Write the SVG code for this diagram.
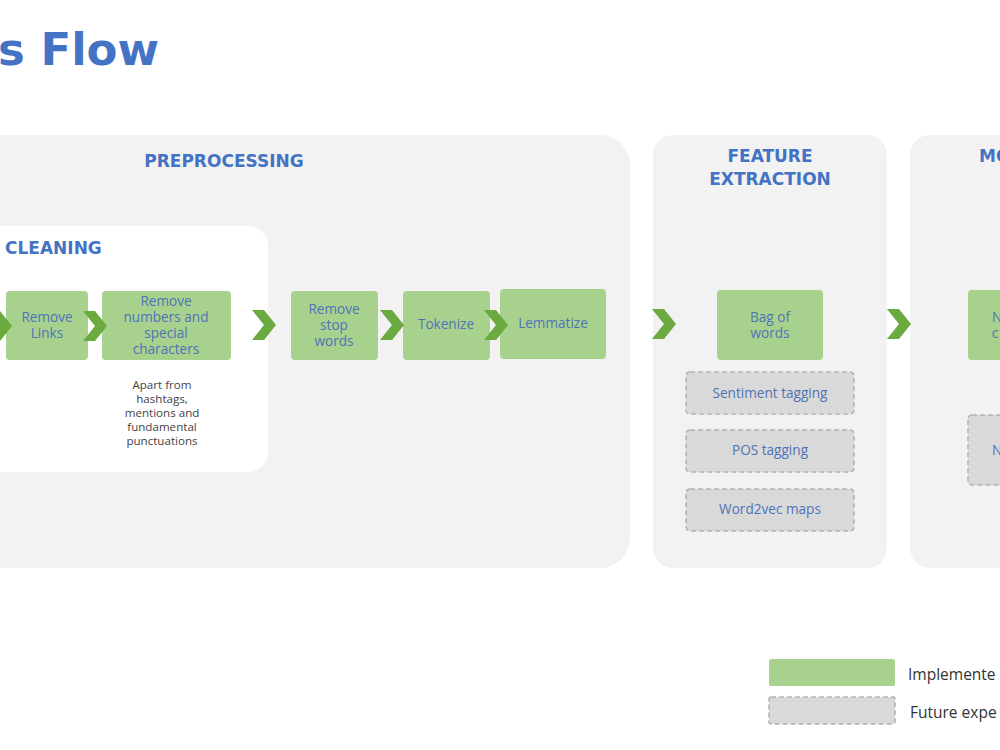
<svg xmlns="http://www.w3.org/2000/svg" width="1000" height="750" viewBox="0 0 1000 750">
<defs>
<style>
.panel{fill:#f2f2f2}
.inner{fill:#ffffff}
.head{font-family:"DejaVu Sans",sans-serif;font-weight:bold;font-size:17px;fill:#4472c4}
.title{font-family:"DejaVu Sans",sans-serif;font-weight:bold;font-size:45px;fill:#4472c4}
.impl{fill:#a9d18e}
.fut{fill:#d9d9d9;stroke:#b3b3b3;stroke-width:1.5;stroke-dasharray:5 3}
.lbl{font-family:"Open Sans",sans-serif;font-size:13.6px;fill:#4f73b8;text-anchor:middle}
.note{font-family:"Open Sans",sans-serif;font-size:11.6px;fill:#444444;text-anchor:middle}
.leg{font-family:"Open Sans",sans-serif;font-size:15.5px;fill:#333333}
.chev{fill:#6aaa3f}
</style>
<path id="chev" d="M0,0 L12,0 L24,15 L12,30 L0,30 L12,15 Z"/>
</defs>
<rect width="1000" height="750" fill="#ffffff"/>
<text class="title" x="-2" y="65">s Flow</text>

<g id="preprocessing">
<rect class="panel" x="-40" y="135" width="670" height="433" rx="30"/>
<text class="head" x="224" y="167" text-anchor="middle">PREPROCESSING</text>
</g>
<g id="cleaning">
<rect class="inner" x="-40" y="226" width="308" height="246" rx="20"/>
<text class="head" x="5" y="254">CLEANING</text>
</g>
<g id="feature-extraction">
<rect class="panel" x="653" y="135" width="234" height="433" rx="20"/>
<text class="head" x="770" y="162" text-anchor="middle">FEATURE</text>
<text class="head" x="770" y="185" text-anchor="middle">EXTRACTION</text>
</g>
<g id="model">
<rect class="panel" x="910" y="135" width="140" height="433" rx="20"/>
<text class="head" x="979" y="162">MO</text>
</g>

<g id="remove-links">
<rect class="impl" x="6" y="291" width="82" height="69" rx="4"/>
<text class="lbl" x="47" y="322">Remove</text>
<text class="lbl" x="47" y="338">Links</text>
</g>
<g id="remove-numbers">
<rect class="impl" x="102" y="291" width="129" height="69" rx="4"/>
<text class="lbl" x="166" y="306">Remove</text>
<text class="lbl" x="166" y="322">numbers and</text>
<text class="lbl" x="166" y="338">special</text>
<text class="lbl" x="166" y="354">characters</text>
</g>
<g id="note">
<text class="note" x="162" y="389">Apart from</text>
<text class="note" x="162" y="403">hashtags,</text>
<text class="note" x="162" y="417">mentions and</text>
<text class="note" x="162" y="431">fundamental</text>
<text class="note" x="162" y="445">punctuations</text>
</g>
<g id="remove-stop-words">
<rect class="impl" x="291" y="291" width="87" height="69" rx="4"/>
<text class="lbl" x="334" y="314">Remove</text>
<text class="lbl" x="334" y="330">stop</text>
<text class="lbl" x="334" y="346">words</text>
</g>
<g id="tokenize">
<rect class="impl" x="403" y="291" width="87" height="69" rx="4"/>
<text class="lbl" x="446" y="329">Tokenize</text>
</g>
<g id="lemmatize">
<rect class="impl" x="500" y="289" width="106" height="70" rx="4"/>
<text class="lbl" x="553" y="328">Lemmatize</text>
</g>
<g id="bag-of-words">
<rect class="impl" x="717" y="290" width="106" height="70" rx="4"/>
<text class="lbl" x="770" y="322">Bag of</text>
<text class="lbl" x="770" y="338">words</text>
</g>
<g id="sentiment-tagging">
<rect class="fut" x="686" y="372" width="168" height="42" rx="4"/>
<text class="lbl" x="770" y="398">Sentiment tagging</text>
</g>
<g id="pos-tagging">
<rect class="fut" x="686" y="430" width="168" height="42" rx="4"/>
<text class="lbl" x="770" y="455">POS tagging</text>
</g>
<g id="word2vec">
<rect class="fut" x="686" y="489" width="168" height="42" rx="4"/>
<text class="lbl" x="770" y="514">Word2vec maps</text>
</g>
<g id="model-implemented">
<rect class="impl" x="968" y="290" width="80" height="70" rx="4"/>
<text class="lbl" x="997" y="322">N</text>
<text class="lbl" x="995" y="338">c</text>
</g>
<g id="model-future">
<rect class="fut" x="968" y="415" width="80" height="70" rx="4"/>
<text class="lbl" x="997" y="455">N</text>
</g>

<g id="connectors">
<use href="#chev" class="chev" x="-12" y="311"/>
<use href="#chev" class="chev" x="83" y="311"/>
<use href="#chev" class="chev" x="252" y="310"/>
<use href="#chev" class="chev" x="380" y="310"/>
<use href="#chev" class="chev" x="484" y="310"/>
<use href="#chev" class="chev" x="652" y="309"/>
<use href="#chev" class="chev" x="887" y="309"/>
</g>

<g id="legend">
<rect class="impl" x="769" y="659" width="126" height="27" rx="2"/>
<text class="leg" x="908" y="680">Implemente</text>
<rect class="fut" x="769" y="697" width="126" height="27" rx="2"/>
<text class="leg" x="910" y="718">Future expe</text>
</g>
</svg>
